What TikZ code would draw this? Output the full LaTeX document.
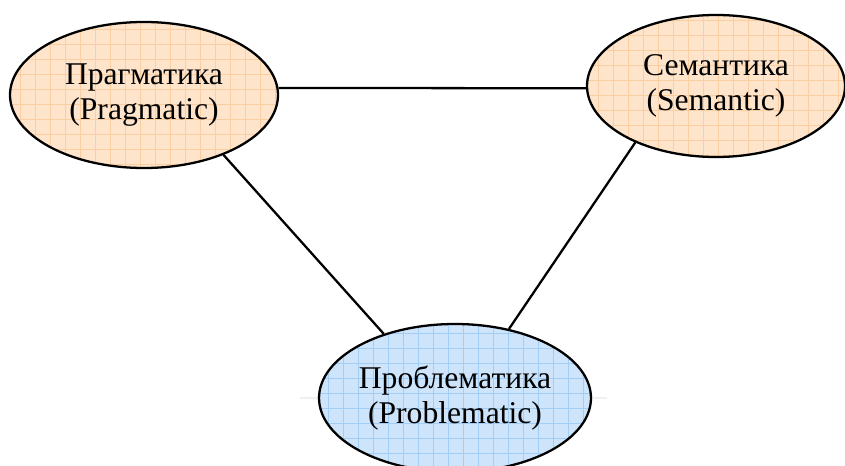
\documentclass[tikz,border=0pt]{standalone}
\usepackage{fontspec}
\setmainfont{Liberation Serif}
\usetikzlibrary{shapes.geometric}
\definecolor{peach}{RGB}{253,228,202}
\definecolor{peachgrid}{RGB}{250,206,160}
\definecolor{sky}{RGB}{205,228,250}
\definecolor{skygrid}{RGB}{162,206,246}
\begin{document}
\begin{tikzpicture}[
    field/.style={ellipse,draw=black,line width=1.3pt,inner sep=0pt,align=center,
      font=\fontsize{18}{19.5}\selectfont,fill=#1,
      path picture={\draw[#1grid,line width=.5pt,step=.3]
        (path picture bounding box.south west) grid (path picture bounding box.north east);}},
    link/.style={line width=1.3pt}
  ]
\useasboundingbox (0,0) rectangle (16.9,-9.3);
\draw[gray!12,line width=.6pt] (6.0,-7.96) -- (12.14,-7.96);
\node [field=peach,minimum width=5.36cm,minimum height=2.92cm] (prag) at ( 2.88,-1.9 )
  {Прагматика\\(Pragmatic)};
\node [field=peach,minimum width=5.16cm,minimum height=2.84cm] (sem)  at (14.32,-1.72)
  {Семантика\\(Semantic)};
\node [field=sky,minimum width=5.3cm,minimum height=2.96cm]    (prob) at ( 9.1 ,-7.96)
  {Проблематика\\(Problematic)};
\draw[link] (prag.3.4)   -- (sem.181.3);
\draw[link] (prag.-37.6) -- (prob.138);
\draw[link] (sem.215.8)  -- (prob.52.6);
\end{tikzpicture}
\end{document}
